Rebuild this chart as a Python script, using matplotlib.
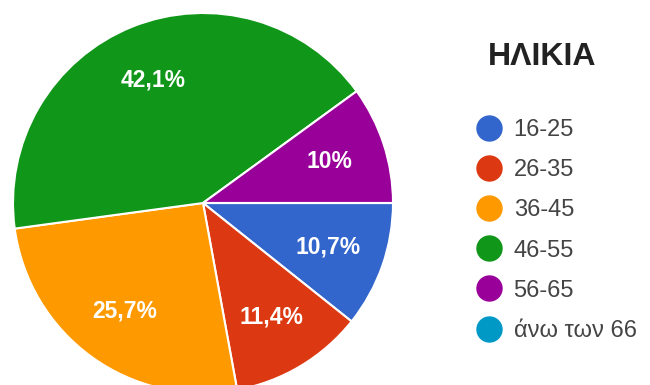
import matplotlib
matplotlib.use("Agg")
from matplotlib import pyplot as plt
from matplotlib.lines import Line2D

plt.rcParams["font.family"] = ["Liberation Sans", "DejaVu Sans"]

# age groups and their share of answers (%)
age_groups = ["16-25", "26-35", "36-45", "46-55", "56-65", "άνω των 66"]
shares = [10.7, 11.4, 25.7, 42.1, 10.0, 0.0]
colors = ["#3366cc", "#dc3912", "#ff9900", "#109618", "#990099", "#0099c6"]
title = "ΗΛΙΚΙΑ"


def pct_label(p):
    if p < 0.05:
        return ""
    txt = f"{p:.1f}".rstrip("0").rstrip(".")
    return txt.replace(".", ",") + "%"


W, H = 650, 385
fig = plt.figure(figsize=(W / 100, H / 100), dpi=100)
fig.set_facecolor("w")

# pie centred at (203, 203) px, radius 190 px
cx, cy, r = 203, 203, 190
ax = fig.add_axes([(cx - r) / W, (H - cy - r) / H, 2 * r / W, 2 * r / H])
wedges, _, autotexts = ax.pie(
    shares,
    colors=colors,
    startangle=0,
    counterclock=False,
    autopct=pct_label,
    pctdistance=0.70,
    wedgeprops={"edgecolor": "white", "linewidth": 1.5},
    textprops={"color": "white", "fontsize": 16.5, "fontweight": "bold"},
)
ax.set_xlim(-1, 1)
ax.set_ylim(-1, 1)
ax.set_aspect("equal")
ax.axis("off")

fig.text(542 / W, 1 - 57 / H, title, ha="center", va="center",
         fontsize=23, fontweight="bold", color="#222222")

handles = [
    Line2D([], [], linestyle="none", marker="o", markersize=18,
           markerfacecolor=c, markeredgecolor=c)
    for c in colors
]
fig.legend(
    handles, age_groups,
    loc="upper left",
    bbox_to_anchor=(477 / W, 1 - 119 / H),
    frameon=False,
    fontsize=17,
    labelcolor="#444444",
    handlelength=1.0,
    handletextpad=0.55,
    labelspacing=0.77,
    borderpad=0,
    borderaxespad=0,
)

fig.savefig("out.png", dpi=100, facecolor="w")
plt.close(fig)
